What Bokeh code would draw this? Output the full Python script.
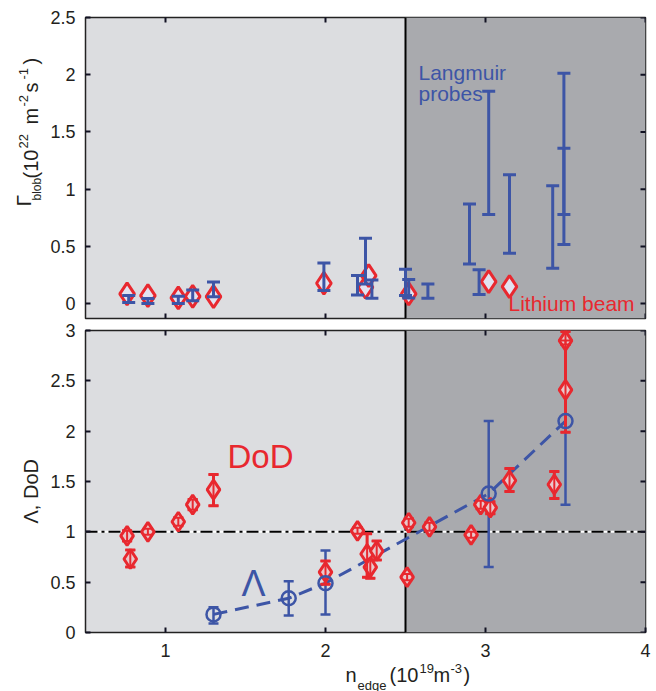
import math
from bokeh.plotting import figure
from bokeh.layouts import gridplot
from bokeh.models import (Range1d, FixedTicker, NumeralTickFormatter,
                          BoxAnnotation, Span, Label)
from bokeh.embed import file_html
from bokeh.resources import INLINE

# ---------------- data ----------------
# Blob particle flux (10^22 m^-2 s^-1) versus edge density (10^19 m^-3)
li_density = [0.76, 0.89, 1.08, 1.17, 1.30, 1.99, 2.25, 2.27, 2.52, 3.02, 3.15]
li_flux = [0.085, 0.07, 0.05, 0.064, 0.061, 0.178, 0.143, 0.245, 0.085, 0.192, 0.149]

lp_density = [0.77, 0.89, 1.08, 1.17, 1.30, 1.99, 2.20, 2.25, 2.29, 2.50, 2.52,
              2.64, 2.90, 2.96, 3.02, 3.15, 3.42, 3.49, 3.49]
lp_flux_low = [0.01, 0.0, 0.0, 0.026, 0.061, 0.114, 0.076, 0.172, 0.046, 0.07, 0.05,
               0.046, 0.347, 0.079, 0.778, 0.44, 0.309, 0.516, 0.778]
lp_flux_high = [0.07, 0.045, 0.064, 0.12, 0.19, 0.356, 0.245, 0.571, 0.207, 0.30, 0.21,
                0.172, 0.871, 0.295, 1.856, 1.125, 1.031, 2.013, 1.357]

# Density of detachment (DoD) and collisionality parameter Lambda
dod_density = [0.76, 0.78, 0.89, 1.08, 1.17, 1.30, 2.00, 2.20, 2.26, 2.28, 2.32,
               2.51, 2.52, 2.65, 2.91, 2.97, 3.03, 3.15, 3.43, 3.50, 3.50]
dod = [0.96, 0.73, 1.00, 1.10, 1.27, 1.42, 0.60, 1.01, 0.78, 0.65, 0.81,
       0.55, 1.09, 1.05, 0.97, 1.27, 1.24, 1.51, 1.47, 2.41, 2.90]
dod_low = [0.91, 0.65, 0.97, 1.06, 1.22, 1.26, 0.48, 0.98, 0.55, 0.54, 0.72,
           0.52, 1.05, 1.01, 0.94, 1.23, 1.18, 1.40, 1.33, 1.99, 2.86]
dod_high = [1.01, 0.82, 1.03, 1.14, 1.32, 1.57, 0.71, 1.04, 0.98, 0.72, 0.91,
            0.58, 1.13, 1.09, 1.00, 1.31, 1.30, 1.63, 1.60, 2.90, 2.99]

lam_density = [1.30, 1.77, 2.00, 3.02, 3.50]
lam = [0.18, 0.34, 0.49, 1.38, 2.10]
lam_low = [0.09, 0.17, 0.18, 0.65, 1.27]
lam_high = [0.25, 0.51, 0.815, 2.10, 2.93]

regime_boundary = 2.5
dod_reference = 1.0

x_ticks = [1, 2, 3, 4]
flux_ticks = [0, 0.5, 1, 1.5, 2, 2.5]
ratio_ticks = [0, 0.5, 1, 1.5, 2, 2.5, 3]

# ---------------- style ----------------
FONT = "Liberation Sans"
RED = "#e8282f"
BLUE = "#3d55a6"
LIGHT = "#dcdde0"
DARK = "#a9aaae"
INK = "#231f20"
TICK = "#111122"
PAGE_H = 691
LABEL_W = 45            # strip holding the rotated axis titles
X0, X1 = 0.5, 4.0
FRAME_W = 560
LEFT = 85               # page x of the plot frames
RIGHT_BORDER = 11
BASE_SHIFT = 0.36       # em offset between requested and drawn alphabetic baseline

# vertical layout (page pixels): borders and frame heights of the two panels
TOP_B, TOP_H, TOP_GAP = 17, 301, 3
BOT_GAP, BOT_H, BOT_B = 9, 302, 30
TOP_BOTTOM = TOP_B + TOP_H                              # 318
BOT_BOTTOM = TOP_BOTTOM + TOP_GAP + BOT_GAP + BOT_H     # 632
XT_TOP = BOT_BOTTOM + BOT_B                             # 662


def style_axis(ax, ticks, standoff):
    ax.ticker = FixedTicker(ticks=ticks)
    ax.axis_line_color = None
    ax.major_tick_in = 5
    ax.major_tick_out = 0
    ax.major_tick_line_width = 2
    ax.major_tick_line_color = TICK
    ax.minor_tick_line_color = None
    ax.formatter = NumeralTickFormatter(format="0.[0]")
    ax.major_label_text_font = FONT
    ax.major_label_text_font_size = "18px"
    ax.major_label_text_color = INK
    ax.major_label_standoff = standoff


def inner_ticks(p, yticks, y0, y1, bottom_too):
    """Inward tick marks on the unlabelled frame sides (half of each mark is clipped)."""
    p.scatter(x=[X1] * len(yticks), y=yticks, marker="dash", size=10,
              line_color=TICK, line_width=2)
    p.scatter(x=x_ticks, y=[y1] * len(x_ticks), marker="dash", angle=math.pi / 2,
              size=10, line_color=TICK, line_width=2)
    if bottom_too:
        p.scatter(x=x_ticks, y=[y0] * len(x_ticks), marker="dash", angle=math.pi / 2,
                  size=10, line_color=TICK, line_width=2)


def make_panel(y0, y1, frame_h, top, bottom, yticks, xlabels):
    p = figure(frame_width=FRAME_W, frame_height=frame_h,
               x_range=Range1d(X0, X1), y_range=Range1d(y0, y1),
               output_backend="svg", toolbar_location=None,
               x_axis_location="below" if xlabels else None,
               min_border_left=LEFT - LABEL_W, min_border_right=RIGHT_BORDER,
               min_border_top=top, min_border_bottom=bottom,
               background_fill_color=LIGHT, border_fill_color="white",
               outline_line_color="#222222", outline_line_width=1.5)
    p.grid.visible = False
    if xlabels:
        style_axis(p.xaxis[0], x_ticks, 11)
    style_axis(p.yaxis[0], yticks, 10)
    p.add_layout(BoxAnnotation(left=regime_boundary, fill_color=DARK, fill_alpha=1.0,
                               line_color=None, level="underlay"))
    p.add_layout(Span(location=regime_boundary, dimension="height", line_color="black",
                      line_width=2, level="underlay"))
    return p


def blank_canvas(fw, fh, left, right, top, bottom, x_range):
    """A plain strip for axis titles; its borders mirror the neighbouring panel."""
    p = figure(frame_width=fw, frame_height=fh, x_range=x_range, y_range=Range1d(0, fh),
               output_backend="svg", toolbar_location=None,
               x_axis_location=None, y_axis_location=None,
               min_border_left=left, min_border_right=right,
               min_border_top=top, min_border_bottom=bottom,
               outline_line_color=None,
               background_fill_color="white", border_fill_color="white")
    p.grid.visible = False
    return p


def error_bars(p, x, lo, hi, color, width, cap):
    p.segment(x0=x, y0=lo, x1=x, y1=hi, line_color=color, line_width=width)
    p.scatter(x=x + x, y=lo + hi, marker="dash", size=cap,
              line_color=color, line_width=width)


def label(p, s, x, y, size, color=INK, angle=0.0):
    p.add_layout(Label(x=x, y=y, x_units="screen", y_units="screen",
                       text=s, text_font=FONT, text_font_size=f"{size}px",
                       text_color=color, text_align="left", text_baseline="alphabetic",
                       angle=angle))


def place(p, frame_left, frame_bottom, s, px, py, size, color=INK, angle=0.0):
    """Text anchored (left, baseline) at a page pixel position."""
    if angle:
        px -= BASE_SHIFT * size
    else:
        py -= BASE_SHIFT * size
    label(p, s, px - frame_left, frame_bottom - py, size, color, angle)


# ---------------- top panel: blob flux ----------------
TOP_Y0, TOP_Y1 = -0.13, 2.5
p1 = make_panel(TOP_Y0, TOP_Y1, TOP_H, TOP_B, TOP_GAP, flux_ticks, False)

p1.scatter(x=li_density, y=li_flux, marker="diamond", size=22, line_color=RED,
           line_width=3, fill_color="#e2e2f0")
error_bars(p1, lp_density, lp_flux_low, lp_flux_high, BLUE, 3, 13)
inner_ticks(p1, flux_ticks, TOP_Y0, TOP_Y1, True)

place(p1, LEFT, TOP_BOTTOM, "Langmuir", 418, 80, 21, BLUE)
place(p1, LEFT, TOP_BOTTOM, "probes", 418, 101, 21, BLUE)
place(p1, LEFT, TOP_BOTTOM, "Lithium beam", 508, 311, 21, RED)

# ---------------- bottom panel: Lambda and DoD ----------------
BOT_Y0, BOT_Y1 = 0.0, 3.0
p2 = make_panel(BOT_Y0, BOT_Y1, BOT_H, BOT_GAP, BOT_B, ratio_ticks, True)

p2.add_layout(Span(location=dod_reference, dimension="width", line_color="white",
                   line_width=2, level="underlay"))
p2.add_layout(Span(location=dod_reference, dimension="width", line_color="black",
                   line_width=2, line_dash="12 4 3 4", level="underlay"))

p2.line(x=lam_density, y=lam, line_color=BLUE, line_width=3, line_dash="14 8")
error_bars(p2, lam_density, lam_low, lam_high, BLUE, 2.5, 10)
error_bars(p2, dod_density, dod_low, dod_high, RED, 3, 10)
p2.scatter(x=dod_density, y=dod, marker="diamond", size=19, line_color=RED,
           line_width=3, fill_color="#e8c8cc")
error_bars(p2, dod_density, dod_low, dod_high, RED, 2, 10)
p2.scatter(x=lam_density, y=lam, marker="circle", size=14, line_color=BLUE,
           line_width=2.5, fill_color=None)
inner_ticks(p2, ratio_ticks, BOT_Y0, BOT_Y1, False)

place(p2, LEFT, BOT_BOTTOM, "DoD", 227, 468, 33, RED)
place(p2, LEFT, BOT_BOTTOM, "\u039b", 241, 596, 36, BLUE)

# ---------------- y-axis titles (rotated) ----------------
yt1 = blank_canvas(LABEL_W, TOP_H, 0, 0, TOP_B, TOP_GAP, Range1d(0, LABEL_W))
yt2 = blank_canvas(LABEL_W, BOT_H, 0, 0, BOT_GAP, BOT_B, Range1d(0, LABEL_W))

# Γ_blob (10^22 m^-2 s^-1)
for s, bx, sy, fs in [("\u0393", 31, 206, 21), ("blob", 41, 200, 12), ("(10", 38, 178, 20),
                      ("22", 28, 148, 13), ("m", 38, 124, 20), ("-2", 28, 106, 13),
                      ("s", 38, 92, 20), ("-1", 28, 79, 13), (")", 38, 64, 20)]:
    place(yt1, 0, TOP_BOTTOM, s, bx, sy, fs, INK, math.pi / 2)
place(yt2, 0, BOT_BOTTOM, "\u039b, DoD", 38, 523, 20, INK, math.pi / 2)

# ---------------- x-axis title: n_edge (10^19 m^-3) ----------------
xt = blank_canvas(FRAME_W, PAGE_H - XT_TOP, LEFT - LABEL_W, RIGHT_BORDER, 0, 0,
                  Range1d(X0, X1))
for s, px, py, fs in [("n", 345, 682, 20), ("edge", 357, 690, 13), ("(10", 389, 682, 20),
                      ("19", 419, 673, 13), ("m", 433, 682, 20), ("-3", 450, 673, 13),
                      (")", 463, 682, 20)]:
    place(xt, LEFT, PAGE_H, s, px, py, fs)

grid = gridplot([[yt1, p1], [yt2, p2], [None, xt]], toolbar_location=None)
open("out.html", "w").write(file_html(grid, INLINE))
